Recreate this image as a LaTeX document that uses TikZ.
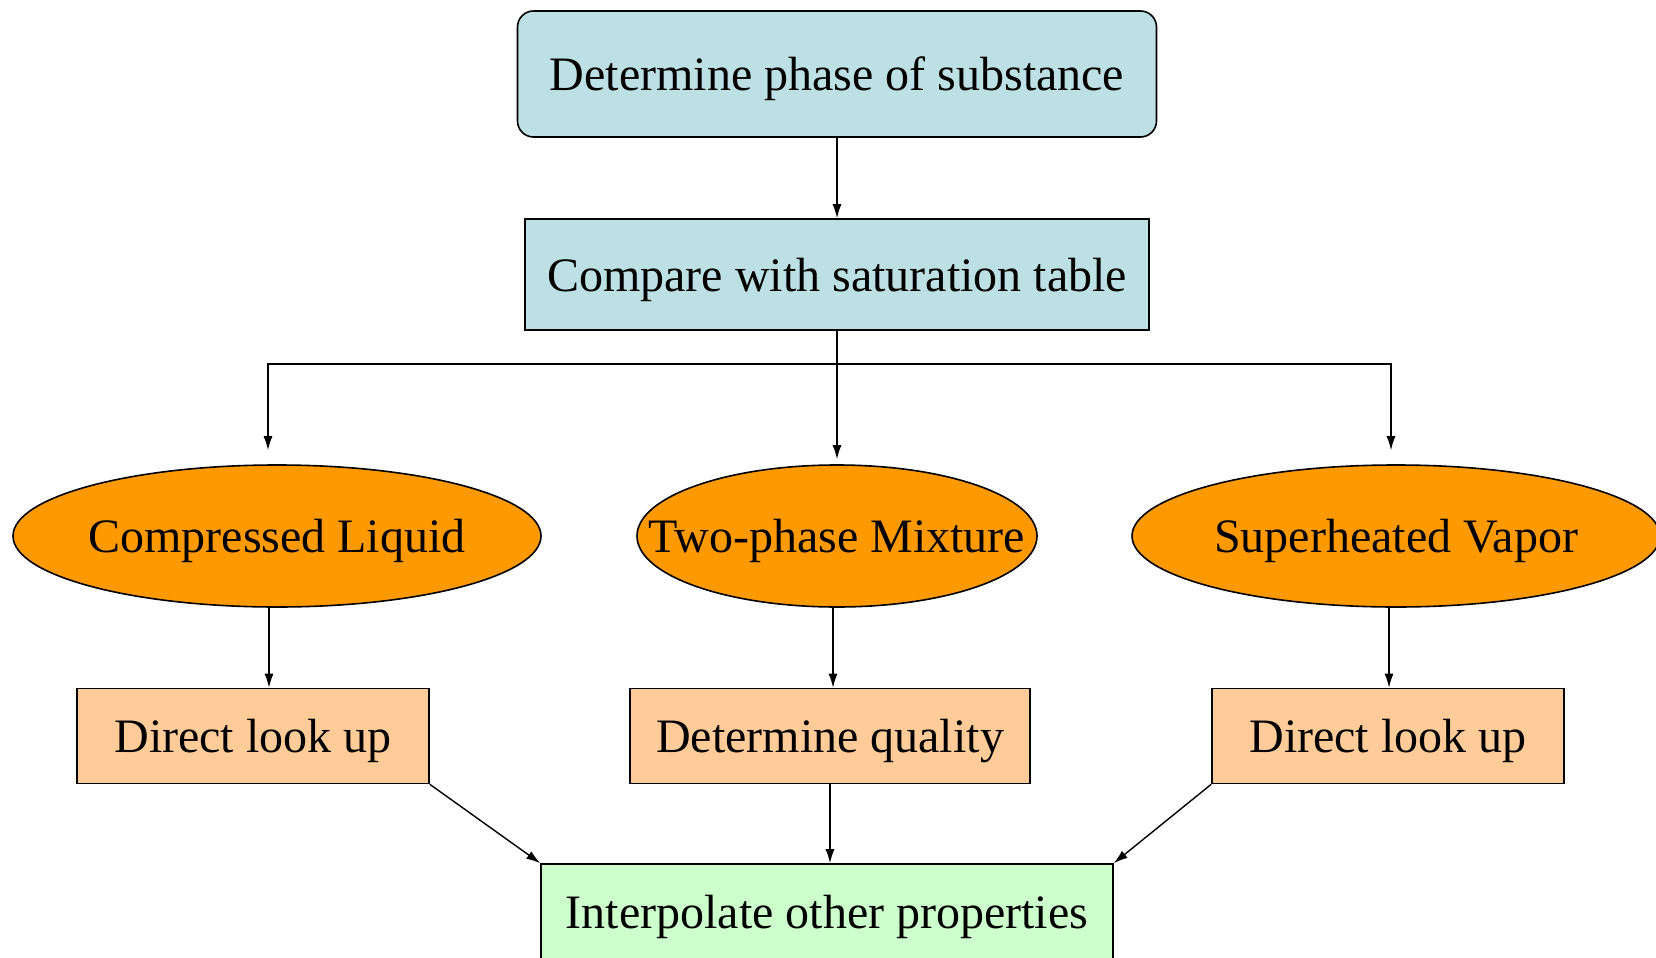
\documentclass[tikz,border=0pt]{standalone}
\usepackage{fontspec}
\setmainfont{Liberation Serif}
\usepackage{tikz}
\usetikzlibrary{positioning, arrows.meta, shapes.geometric, calc}
\definecolor{phaseblue}{HTML}{BCE0E3}
\definecolor{phaseorange}{HTML}{FF9900}
\definecolor{phasepeach}{HTML}{FFCC99}
\definecolor{phasegreen}{HTML}{CCFFCC}
\tikzset{
    box/.style={draw, rectangle, line width=0.8pt, inner sep=0pt, text depth=0pt, font=\fontsize{24}{28}\selectfont},
    ellip/.style={draw, ellipse, fill=phaseorange, line width=0.8pt, inner xsep=-30pt, inner ysep=0pt,
        text depth=0pt, minimum height=71pt, font=\fontsize{24}{28}\selectfont},
    link/.style={line width=0.7pt, -{Latex[length=7pt, width=4.5pt]}},
}
\begin{document}
\begin{tikzpicture}[x=0.5pt, y=-0.5pt]
    \useasboundingbox (0,0) rectangle (1656,958);

    \node[box, rounded corners=8pt, fill=phaseblue, minimum width=319.5pt, minimum height=63pt] (p0) at (837,74) {Determine phase of substance};
    \node[box, fill=phaseblue, minimum width=312pt, minimum height=55.5pt] (p1) at (837,274.5) {Compare with saturation table};

    \node[ellip, minimum width=264pt] (e1) at (277,536) {Compressed Liquid};
    \node[ellip, minimum width=200pt] (e2) at (837,536) {Two-phase Mixture};
    \node[ellip, minimum width=264pt] (e3) at (1396,536) {Superheated Vapor};

    \node[box, fill=phasepeach, minimum width=176pt, minimum height=47.5pt] (d1) at (253,736) {Direct look up};
    \node[box, fill=phasepeach, minimum width=200pt, minimum height=47.5pt] (d2) at (830,736) {Determine quality};
    \node[box, fill=phasepeach, minimum width=176pt, minimum height=47.5pt] (d3) at (1388,736) {Direct look up};

    \node[box, fill=phasegreen, minimum width=286pt, minimum height=48pt] (ip) at (827,912) {Interpolate other properties};

    \coordinate (split) at (837,364);
    \coordinate (a1) at ($(e1.south)+(-8,0)$);
    \coordinate (a2) at ($(e2.south)+(-4,0)$);
    \coordinate (a3) at ($(e3.south)+(-7,0)$);

    \draw[link] (p0) -- (p1);
    \draw[line width=0.7pt] (p1.south) -- (split);
    \draw[link, shorten >=7pt] (split) -| ($(e1.north)+(-9,0)$);
    \draw[link, shorten >=2.5pt] (split) -- (e2.north);
    \draw[link, shorten >=7pt] (split) -| ($(e3.north)+(-5,0)$);

    \draw[link] (a1) -- (a1 |- d1.north);
    \draw[link] (a2) -- (a2 |- d2.north);
    \draw[link] (a3) -- (a3 |- d3.north);

    \draw[link] (d1.south east) -- (ip.north west);
    \draw[link] (d2.south) -- (d2.south |- ip.north);
    \draw[link] (d3.south west) -- (ip.north east);
\end{tikzpicture}
\end{document}
